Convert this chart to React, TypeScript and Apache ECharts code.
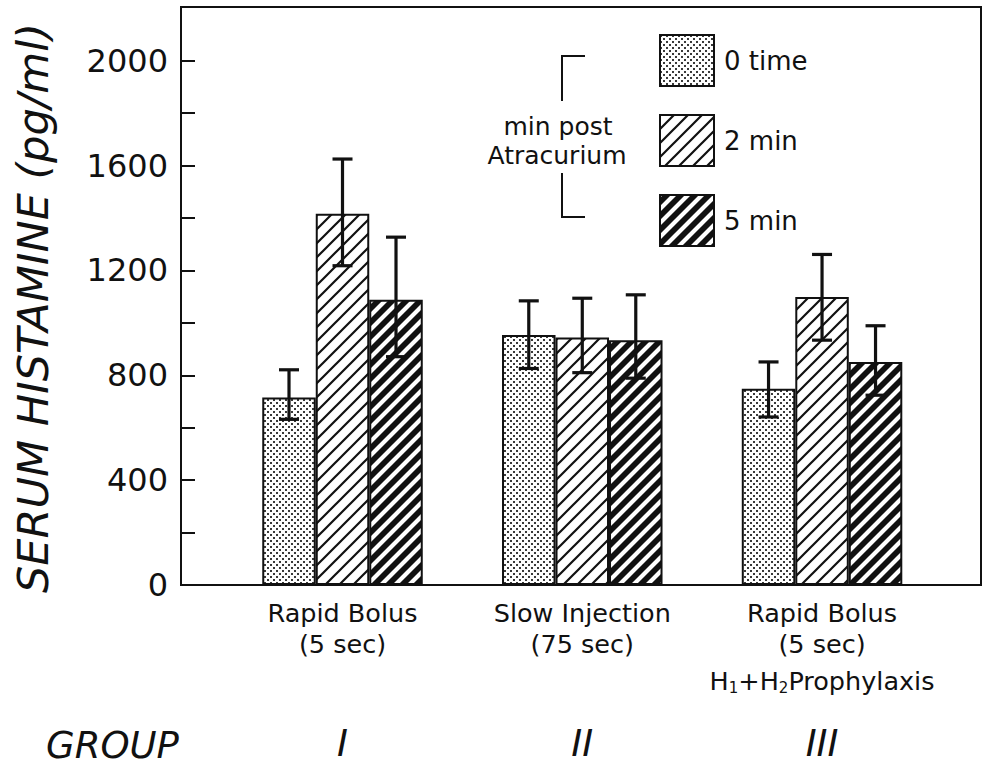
import React, { useEffect, useRef } from 'react';
import * as echarts from 'echarts';

// ---- data ----
const groupPositions = [1, 2, 3];
const groupLabels = [
  'Rapid Bolus\n(5 sec)',
  'Slow Injection\n(75 sec)',
  'Rapid Bolus\n(5 sec)\n{h|H}{s|1}{h|+H}{s|2}{h|Prophylaxis}',
];
const groupNumerals = ['I', 'II', 'III'];
const seriesNames = ['0 time', '2 min', '5 min'];

const time0 = [715, 954, 749];
const time0Low = [632, 826, 641];
const time0High = [821, 1084, 851];

const min2 = [1416, 944, 1099];
const min2Low = [1218, 810, 934];
const min2High = [1625, 1094, 1261];

const min5 = [1088, 934, 851];
const min5Low = [871, 789, 724];
const min5High = [1327, 1107, 989];

const yTickValues = [0, 200, 400, 600, 800, 1000, 1200, 1400, 1600, 1800, 2000];
const yLabelValues = [0, 400, 800, 1200, 1600, 2000];

// ---- style ----
const FONT = 'DejaVu Sans';
const INK = '#111';
const BAR_W = 53.5;

function makeDots(): HTMLCanvasElement {
  const c = document.createElement('canvas');
  c.width = 6;
  c.height = 6;
  const g = c.getContext('2d')!;
  g.fillStyle = '#ffffff';
  g.fillRect(0, 0, 6, 6);
  g.fillStyle = '#3a3a3a';
  g.fillRect(0, 0, 2, 2);
  g.fillRect(3, 3, 2, 2);
  return c;
}

function makeHatch(s: number, bg: string, fg: string, w: number): HTMLCanvasElement {
  const c = document.createElement('canvas');
  c.width = s;
  c.height = s;
  const g = c.getContext('2d')!;
  g.fillStyle = bg;
  g.fillRect(0, 0, s, s);
  g.strokeStyle = fg;
  g.lineWidth = w;
  g.beginPath();
  g.moveTo(0, s);
  g.lineTo(s, 0);
  g.moveTo(-s / 2, s / 2);
  g.lineTo(s / 2, -s / 2);
  g.moveTo(s / 2, s * 1.5);
  g.lineTo(s * 1.5, s / 2);
  g.stroke();
  return c;
}

export default function App() {
  const ref = useRef<HTMLDivElement>(null);

  useEffect(() => {
    if (!ref.current) return;
    const chart = echarts.init(ref.current, undefined, { renderer: 'svg' });

    const fills = [
      { image: makeDots(), repeat: 'repeat' },
      { image: makeHatch(14, '#ffffff', '#111111', 2.2), repeat: 'repeat' },
      { image: makeHatch(14, '#111111', '#ffffff', 4.2), repeat: 'repeat' },
    ];

    const means = [time0, min2, min5];
    const lows = [time0Low, min2Low, min5Low];
    const highs = [time0High, min2High, min5High];

    const barSeries = seriesNames.map((name, k) => ({
      type: 'bar',
      name,
      barWidth: BAR_W,
      barGap: '0%',
      data: groupPositions.map((x, i) => [x, means[k][i]]),
      itemStyle: { color: fills[k], borderColor: INK, borderWidth: 2 },
      emphasis: { disabled: true },
      z: 2,
    }));

    const errSeries = seriesNames.map((name, k) => ({
      type: 'custom',
      name: 'err-' + name,
      z: 5,
      data: groupPositions.map((x, i) => [x, lows[k][i], highs[k][i]]),
      encode: { x: 0, y: [1, 2] },
      renderItem: (params: any, api: any) => {
        const x = api.value(0);
        const lo = api.value(1);
        const hi = api.value(2);
        const pTop = api.coord([x, hi]);
        const pBot = api.coord([x, lo]);
        const cx = pTop[0] + (k - 1) * BAR_W;
        const cap = 10;
        const style = { stroke: INK, lineWidth: 3.2 };
        return {
          type: 'group',
          children: [
            { type: 'line', shape: { x1: cx, y1: pTop[1], x2: cx, y2: pBot[1] }, style },
            { type: 'line', shape: { x1: cx - cap, y1: pTop[1], x2: cx + cap, y2: pTop[1] }, style },
            { type: 'line', shape: { x1: cx - cap, y1: pBot[1], x2: cx + cap, y2: pBot[1] }, style },
          ],
        };
      },
    }));

    const option: any = {
      animation: false,
      backgroundColor: '#ffffff',
      textStyle: { fontFamily: FONT, color: INK },
      grid: {
        left: 181,
        right: 2,
        top: 7,
        bottom: 180,
        show: true,
        borderColor: INK,
        borderWidth: 2,
        backgroundColor: 'transparent',
      },
      xAxis: [
        {
          type: 'value',
          min: 0.3264,
          max: 3.663,
          splitLine: { show: false },
          axisLine: { show: true, onZero: false, lineStyle: { color: INK, width: 2 } },
          axisTick: { show: false },
          axisLabel: {
            customValues: groupPositions,
            formatter: (v: number) => groupLabels[Math.round(v) - 1] ?? '',
            fontFamily: FONT,
            fontSize: 25.5,
            lineHeight: 31,
            color: INK,
            margin: 12,
            rich: {
              h: { fontFamily: FONT, fontSize: 25.5, lineHeight: 44, color: INK },
              s: { fontFamily: FONT, fontSize: 15, lineHeight: 44, color: INK, padding: [14, 0, 0, 0] },
            },
          },
        },
        {
          type: 'value',
          min: 0.3264,
          max: 3.663,
          position: 'bottom',
          offset: 138,
          splitLine: { show: false },
          axisLine: { show: false },
          axisTick: { show: false },
          axisLabel: {
            customValues: groupPositions,
            formatter: (v: number) => groupNumerals[Math.round(v) - 1] ?? '',
            fontFamily: FONT,
            fontSize: 37,
            fontStyle: 'italic',
            lineHeight: 40,
            color: INK,
            margin: 0,
          },
        },
      ],
      yAxis: {
        type: 'value',
        min: 0,
        max: 2205,
        splitLine: { show: false },
        axisLine: { show: true, lineStyle: { color: INK, width: 2 } },
        axisTick: {
          show: true,
          inside: true,
          length: 14,
          customValues: yTickValues,
          lineStyle: { color: INK, width: 2 },
        },
        axisLabel: {
          customValues: yLabelValues,
          formatter: (v: number) => String(v),
          fontFamily: FONT,
          fontSize: 32,
          color: INK,
          margin: 13,
        },
      },
      legend: {
        orient: 'vertical',
        left: 659,
        top: 34,
        padding: 0,
        itemWidth: 54,
        itemHeight: 51,
        itemGap: 27,
        icon: 'rect',
        selectedMode: false,
        data: seriesNames,
        itemStyle: { borderColor: INK, borderWidth: 2 },
        textStyle: { fontFamily: FONT, fontSize: 26, color: INK, padding: [0, 0, 0, 5] },
      },
      graphic: [
        {
          type: 'text',
          x: 33,
          y: 308,
          rotation: Math.PI / 2,
          style: {
            text: 'SERUM HISTAMINE (pg/ml)',
            fontFamily: FONT,
            fontSize: 43,
            fontStyle: 'italic',
            fill: INK,
            align: 'center',
            verticalAlign: 'middle',
          },
        },
        {
          type: 'text',
          x: 46,
          y: 745,
          style: {
            text: 'GROUP',
            fontFamily: FONT,
            fontSize: 37,
            fontStyle: 'italic',
            fill: INK,
            align: 'left',
            verticalAlign: 'middle',
          },
        },
        {
          type: 'polyline',
          shape: { points: [[585, 56], [562, 56], [562, 101]] },
          style: { stroke: INK, lineWidth: 2, fill: 'none' },
        },
        {
          type: 'polyline',
          shape: { points: [[562, 173], [562, 217], [585, 217]] },
          style: { stroke: INK, lineWidth: 2, fill: 'none' },
        },
        {
          type: 'text',
          x: 558,
          y: 126,
          style: {
            text: 'min post',
            fontFamily: FONT,
            fontSize: 25,
            fill: INK,
            align: 'center',
            verticalAlign: 'middle',
          },
        },
        {
          type: 'text',
          x: 557,
          y: 155,
          style: {
            text: 'Atracurium',
            fontFamily: FONT,
            fontSize: 25,
            fill: INK,
            align: 'center',
            verticalAlign: 'middle',
          },
        },
      ],
      series: [...barSeries, ...errSeries],
    };

    chart.setOption(option);
    return () => chart.dispose();
  }, []);

  return (
    <div
      ref={ref}
      style={{ position: 'fixed', left: 0, top: 0, width: 983, height: 765, background: '#fff' }}
    />
  );
}
